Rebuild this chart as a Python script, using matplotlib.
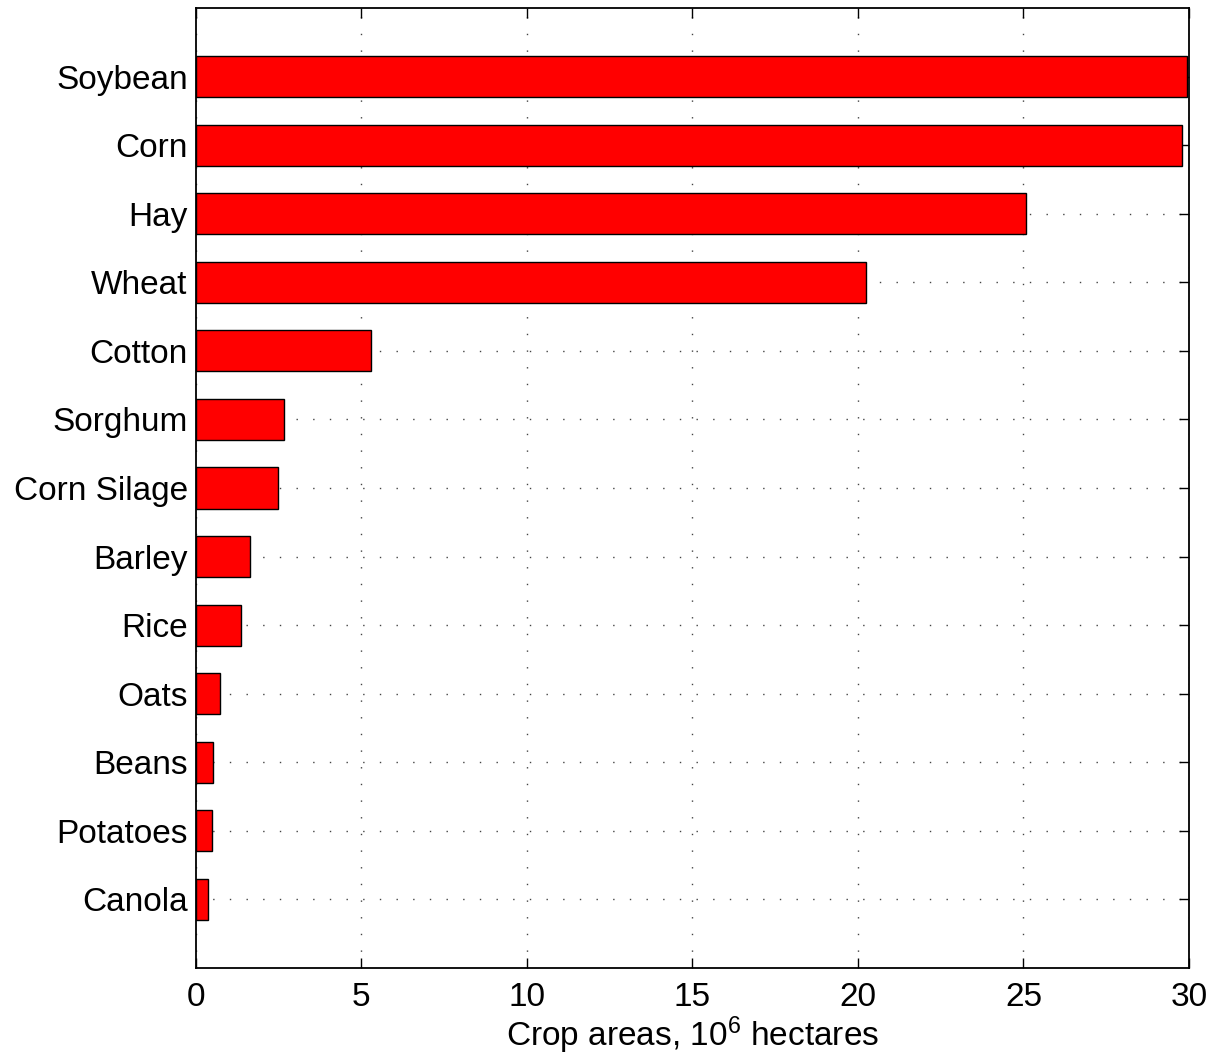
import numpy as np
import matplotlib
matplotlib.use('Agg')
import matplotlib.pyplot as plt

crops = ['Soybean', 'Corn', 'Hay', 'Wheat', 'Cotton', 'Sorghum', 'Corn Silage',
         'Barley', 'Rice', 'Oats', 'Beans', 'Potatoes', 'Canola']
areas = [29.95, 29.8, 25.08, 20.24, 5.3, 2.65, 2.48, 1.63, 1.35, 0.73, 0.51, 0.48, 0.36]

plt.rcParams['font.family'] = ['Liberation Sans', 'DejaVu Sans']
plt.rcParams['mathtext.fontset'] = 'custom'
plt.rcParams['mathtext.rm'] = 'Liberation Sans'
plt.rcParams['mathtext.it'] = 'Liberation Sans:italic'

fig = plt.figure(figsize=(12.12, 10.64), dpi=100)
ax = fig.add_axes([0.1617, 0.0902, 0.8193, 0.9023])

y = np.arange(1, len(crops) + 1)
ax.barh(y, areas, height=0.6, color='#ff0000', edgecolor='black', linewidth=1, zorder=3)

ax.set_xlim(0, 30)
ax.set_ylim(14, 0)
ax.set_xticks(np.arange(0, 31, 5))
ax.set_yticks(y)
ax.set_yticklabels(crops)
ax.tick_params(axis='both', direction='in', top=True, right=True, length=7,
               width=1, labelsize=24)
ax.tick_params(axis='y', pad=6)
ax.tick_params(axis='x', pad=10)
ax.grid(True, linestyle=(0, (1, 11)), color='#444444', linewidth=1, zorder=0)
for s in ax.spines.values():
    s.set_linewidth(1.3)

ax.set_xlabel(r'Crop areas, 10$^{6}$ hectares', fontsize=24, labelpad=1)

fig.savefig('out.png', dpi=100)
